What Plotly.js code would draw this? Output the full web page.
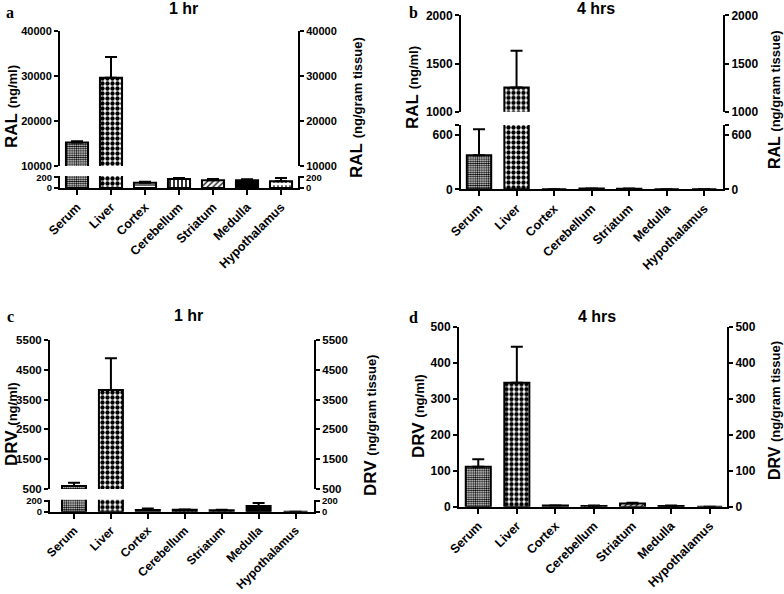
<!DOCTYPE html>
<html>
<head>
<meta charset="utf-8">
<script src="https://cdn.plot.ly/plotly-3.0.1.min.js"></script>
<style>
body { margin: 0; background: #fff; }
#chart { width: 784px; height: 594px; }
</style>
</head>
<body>
<div id="chart"></div>
<script>
const tissues = ['Serum', 'Liver', 'Cortex', 'Cerebellum', 'Striatum', 'Medulla', 'Hypothalamus'];

// RAL, 1 hr (mean and upper error)
const ral1Mean = [15200, 29600, 100, 168, 144, 144, 125];
const ral1Err = [300, 4600, 18, 19, 24, 18, 62];
// RAL, 4 hrs
const ral4Mean = [376, 1250, 0, 8, 5, 0, 0];
const ral4Err = [287, 383, 0, 2, 3, 0, 0];
// DRV, 1 hr
const drv1Mean = [600, 3820, 30, 36, 25, 104, 0];
const drv1Err = [111, 1066, 30, 4, 10, 54, 0];
// DRV, 4 hrs
const drv4Mean = [111, 344, 3, 2, 9, 2, 0];
const drv4Err = [21, 100, 0, 1, 2, 1, 0];

// bar fills per tissue
const fills = ['#fff', '#fff', '#fff', '#fff', '#fff', '#000', '#fff'];
const shapes = ['.', '.', '-', '|', '/', '', '.'];
const shapeSizes = [2.2, 5, 6, 4, 4, 4, 4];
const shapeSolid = [0.6, 0.6, 0.2, 0.4, 0.3, 0.3, 0.15];

const W = 784, H = 594;
const font = 'Arial, "Liberation Sans", sans-serif';
const serif = '"Liberation Serif", "Times New Roman", serif';

function fx(px) { return px / W; }
function fy(py) { return 1 - py / H; }
function dom(top, bottom) { return [fy(bottom), fy(top)]; }

// one bar trace per tissue so every bar gets its own fill pattern
function segmentBars(xa, ya, mean, err) {
    return tissues.map((t, i) => {
        const marker = {color: fills[i], line: {color: '#000', width: 2}};
        if (shapes[i]) {
            marker.pattern = {shape: shapes[i], size: shapeSizes[i], solidity: shapeSolid[i],
                fgcolor: '#000', bgcolor: fills[i], fillmode: 'replace'};
        }
        return {
            type: 'bar', x: [t], y: [mean[i]], xaxis: xa, yaxis: ya, width: 0.65,
            marker: marker,
            error_y: {type: 'data', symmetric: false, array: [err[i]], arrayminus: [0],
                color: '#000', thickness: 2, width: 6},
            hoverinfo: 'skip', showlegend: false
        };
    });
}

// invisible trace so the right-hand axis gets drawn
function ghost(xa, ya, mean) {
    return {type: 'scatter', mode: 'none', x: tissues, y: mean, xaxis: xa, yaxis: ya, hoverinfo: 'skip', showlegend: false};
}

function yAx(domain, range, vals, anchor, side, overlay, cap, size) {
    const ax = {
        domain: domain, range: range, anchor: anchor, side: side,
        tickvals: cap ? vals.concat([cap]) : vals,
        ticktext: cap ? vals.map(String).concat(['']) : vals.map(String),
        showline: true, linecolor: '#000', linewidth: 2,
        ticks: 'outside', ticklen: 4, tickwidth: 2, tickcolor: '#000',
        showgrid: false, zeroline: false, fixedrange: true,
        tickfont: {family: font, size: size || 12, color: '#000', weight: 'bold'}
    };
    if (overlay) ax.overlaying = overlay;
    return ax;
}

function xAx(domain, range, anchor, size) {
    return {
        domain: domain, range: range, anchor: anchor, type: 'category',
        categoryorder: 'array', categoryarray: tissues,
        showline: true, linecolor: '#000', linewidth: 2,
        ticks: 'outside', ticklen: 5, tickwidth: 2, tickcolor: '#000', tickangle: -45,
        showgrid: false, zeroline: false, fixedrange: true,
        tickfont: {family: font, size: size, color: '#000', weight: 'bold'}
    };
}

function note(text, px, py, size, angle, family) {
    return {
        text: text, x: fx(px), y: fy(py), xref: 'paper', yref: 'paper',
        xanchor: 'center', yanchor: 'middle', showarrow: false, textangle: angle || 0,
        font: {family: family || font, size: size, color: '#000'}
    };
}

function axisTitle(drug, unit) {
    return '<b>' + drug + '</b> <span style="font-size:13px;font-weight:bold">(' + unit + ')</span>';
}

const traces = [].concat(
    // a: RAL 1 hr, broken axis
    segmentBars('x', 'y', ral1Mean, ral1Err),
    segmentBars('x', 'y2', ral1Mean, ral1Err),
    [ghost('x', 'y3', ral1Mean), ghost('x', 'y4', ral1Mean)],
    // b: RAL 4 hrs, broken axis
    segmentBars('x2', 'y5', ral4Mean, ral4Err),
    segmentBars('x2', 'y6', ral4Mean, ral4Err),
    [ghost('x2', 'y7', ral4Mean), ghost('x2', 'y8', ral4Mean)],
    // c: DRV 1 hr, broken axis
    segmentBars('x3', 'y9', drv1Mean, drv1Err),
    segmentBars('x3', 'y10', drv1Mean, drv1Err),
    [ghost('x3', 'y11', drv1Mean), ghost('x3', 'y12', drv1Mean)],
    // d: DRV 4 hrs
    segmentBars('x4', 'y13', drv4Mean, drv4Err),
    [ghost('x4', 'y14', drv4Mean)]
);

const ralHiTicks = [10000, 20000, 30000, 40000];
const ral4HiTicks = [1000, 1500, 2000];
const drvHiTicks = [500, 1500, 2500, 3500, 4500, 5500];
const drv4Ticks = [0, 100, 200, 300, 400, 500];

const layout = {
    width: W, height: H,
    margin: {l: 0, r: 0, t: 0, b: 0},
    paper_bgcolor: '#fff', plot_bgcolor: 'rgba(0,0,0,0)',
    showlegend: false, barmode: 'overlay',
    font: {family: font, color: '#000'},

    xaxis: xAx([fx(60), fx(298)], [-0.5, 6.5], 'y', 12.5),
    yaxis: yAx(dom(176, 188), [0, 224], [0, 200], 'x', 'left', null, null, 9.5),
    yaxis2: yAx(dom(31, 166), [10000, 40000], ralHiTicks, 'x', 'left', null, null, 11),
    yaxis3: yAx(dom(176, 188), [0, 224], [0, 200], 'x', 'right', 'y', null, 9.5),
    yaxis4: yAx(dom(31, 166), [10000, 40000], ralHiTicks, 'x', 'right', 'y2', null, 11),

    xaxis2: xAx([fx(461), fx(723)], [-0.48, 6.5], 'y5', 12.5),
    yaxis5: yAx(dom(125, 189.3), [0, 710], [0, 600], 'x2', 'left', null, 710),
    yaxis6: yAx(dom(15.3, 111.7), [1000, 2000], ral4HiTicks, 'x2', 'left'),
    yaxis7: yAx(dom(125, 189.3), [0, 710], [0, 600], 'x2', 'right', 'y5', 710),
    yaxis8: yAx(dom(15.3, 111.7), [1000, 2000], ral4HiTicks, 'x2', 'right', 'y6'),

    xaxis3: xAx([fx(50), fx(314)], [-0.65, 6.5], 'y9', 12),
    yaxis9: yAx(dom(499.7, 511.7), [0, 220], [0, 200], 'x3', 'left', null, null, 9.5),
    yaxis10: yAx(dom(340, 489), [500, 5500], drvHiTicks, 'x3', 'left', null, null, 11.5),
    yaxis11: yAx(dom(499.7, 511.7), [0, 220], [0, 200], 'x3', 'right', 'y9', null, 9.5),
    yaxis12: yAx(dom(340, 489), [500, 5500], drvHiTicks, 'x3', 'right', 'y10', null, 11.5),

    xaxis4: xAx([fx(459), fx(727)], [-0.5, 6.45], 'y13', 12.5),
    yaxis13: yAx(dom(326.7, 506.7), [0, 500], drv4Ticks, 'x4', 'left'),
    yaxis14: yAx(dom(326.7, 506.7), [0, 500], drv4Ticks, 'x4', 'right', 'y13'),

    annotations: [
        note('<b>1 hr</b>', 183, 8, 16),
        note('<b>4 hrs</b>', 596, 8, 16),
        note('<b>1 hr</b>', 188, 315, 16),
        note('<b>4 hrs</b>', 597, 316, 16),
        note('<b>a</b>', 10, 13, 16, 0, serif),
        note('<b>b</b>', 414, 13, 16, 0, serif),
        note('<b>c</b>', 10, 316, 16, 0, serif),
        note('<b>d</b>', 413, 317, 16, 0, serif),
        note(axisTitle('RAL', 'ng/ml'), 11, 107, 17, -90),
        note(axisTitle('RAL', 'ng/gram tissue'), 356, 108, 17, -90),
        note(axisTitle('RAL', 'ng/ml'), 412, 88, 17, -90),
        note(axisTitle('RAL', 'ng/gram tissue'), 774, 100, 16, -90),
        note(axisTitle('DRV', 'ng/ml'), 11, 424, 17, -90),
        note(axisTitle('DRV', 'ng/gram tissue'), 370, 426, 17, -90),
        note(axisTitle('DRV', 'ng/ml'), 418, 416, 17, -90),
        note(axisTitle('DRV', 'ng/gram tissue'), 774, 411, 16, -90)
    ]
};

Plotly.newPlot('chart', traces, layout, {displayModeBar: false});
</script>
</body>
</html>
